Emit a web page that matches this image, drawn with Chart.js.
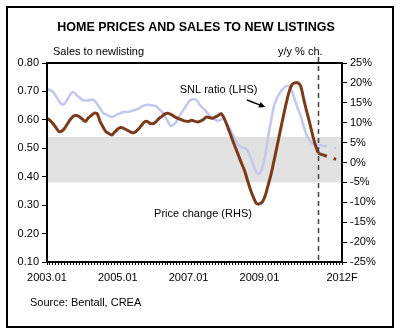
<!DOCTYPE html>
<html>
<head>
<meta charset="utf-8">
<script src="https://cdn.jsdelivr.net/npm/chart.js@4/dist/chart.umd.min.js"></script>
<style>
  html, body { margin: 0; padding: 0; background: #fff; }
  #wrap { width: 400px; height: 335px; position: relative; }
</style>
</head>
<body>
<div id="wrap"><canvas id="chart" width="400" height="335"></canvas></div>
<script>
// Monthly data 2003.01 - 2010.09, then a short forecast to 2012F
const firstYear = 2003;
const actualMonths = 93;
const forecastLabels = ['', '', '', '', '', '', '', '2012F'];
const shownLabels = ['2003.01', '2005.01', '2007.01', '2009.01', '2012F'];

// Sales to new listings ratio (LHS)
const snlRatio = [
  0.709, 0.705, 0.699, 0.684, 0.668, 0.654, 0.656, 0.673, 0.691, 0.698, 0.687, 0.679,
  0.670, 0.668, 0.668, 0.672, 0.668, 0.656, 0.640, 0.624, 0.619, 0.614, 0.610, 0.614,
  0.620, 0.624, 0.628, 0.628, 0.629, 0.632, 0.636, 0.639, 0.646, 0.651, 0.653, 0.652,
  0.650, 0.648, 0.638, 0.628, 0.612, 0.594, 0.578, 0.584, 0.596, 0.614, 0.631, 0.647,
  0.663, 0.671, 0.673, 0.666, 0.650, 0.640, 0.629, 0.617, 0.607, 0.601, 0.596, 0.601,
  0.603, 0.587, 0.568, 0.547, 0.527, 0.512, 0.503, 0.501, 0.492, 0.468, 0.439, 0.415,
  0.410, 0.434, 0.476, 0.543, 0.599, 0.652, 0.677, 0.696, 0.710, 0.719, 0.719, 0.702,
  0.670, 0.640, 0.614, 0.577, 0.547, 0.527, 0.516, 0.512, 0.512
];

// Price change y/y % (RHS)
const priceChange = [
  11.1, 10.6, 9.8, 8.8, 7.8, 7.9, 8.6, 9.8, 10.9, 11.7, 11.8, 11.5,
  10.9, 10.3, 11.2, 11.8, 12.4, 12.3, 10.3, 8.9, 7.7, 7.3, 6.9, 7.7,
  8.4, 8.8, 8.6, 8.2, 7.8, 7.5, 7.7, 8.4, 9.3, 10.2, 10.3, 9.8,
  9.8, 10.3, 11.1, 11.6, 12.2, 12.4, 12.1, 11.6, 11.2, 10.9, 10.6, 10.4,
  10.3, 10.6, 10.4, 10.2, 10.4, 10.8, 11.4, 11.3, 11.1, 11.4, 11.8, 12.3,
  11.2, 9.4, 7.4, 5.4, 3.5, 1.6, -0.3, -2.1, -4.6, -6.9, -8.8, -10.3,
  -10.4, -9.9, -8.3, -5.6, -2.8, 0.6, 4.1, 7.7, 11.2, 14.6, 17.6, 19.5,
  20.0, 20.0, 19.2, 16.0, 12.9, 10.1, 7.0, 4.3, 2.3
];

// Forecast segments, starting at the last actual month
const snlForecast = [0.512, null, null, null, null, null, 0.501];
const priceForecast = [2.3, null, null, null, null, null, 0.8];

const labels = [];
for (let i = 0; i < actualMonths; i++) {
  const y = firstYear + Math.floor(i / 12);
  const m = (i % 12) + 1;
  labels.push(y + '.' + (m < 10 ? '0' + m : m));
}
forecastLabels.forEach(l => labels.push(l));

function padForecast(arr) {
  const out = new Array(actualMonths - 1).fill(null);
  return out.concat(arr);
}

const FONT = '"Liberation Sans", Arial, sans-serif';
const brown = '#7a3b1c';
const lilac = '#c3c6ee';

const decorPlugin = {
  id: 'decor',
  beforeDatasetsDraw(chart) {
    const { ctx, chartArea, scales } = chart;
    // faint grey band across the plot
    const yTop = scales.y.getPixelForValue(0.54);
    const yBot = scales.y.getPixelForValue(0.38);
    ctx.save();
    ctx.fillStyle = '#e1e1e1';
    ctx.fillRect(chartArea.left, yTop, chartArea.right - chartArea.left, yBot - yTop);
    ctx.restore();
  },
  afterDatasetsDraw(chart) {
    const { ctx, chartArea, scales } = chart;
    const x = scales.x, y = scales.y, y1 = scales.y1;
    ctx.save();

    // plot frame
    ctx.strokeStyle = '#000';
    ctx.lineWidth = 2;
    ctx.strokeRect(chartArea.left, chartArea.top, chartArea.right - chartArea.left, chartArea.bottom - chartArea.top);

    // dashed line at the end of actual data
    const dx = Math.round(x.getPixelForValue(actualMonths - 1)) + 0.5;
    ctx.setLineDash([5, 4]);
    ctx.strokeStyle = '#444';
    ctx.lineWidth = 1.5;
    ctx.beginPath();
    ctx.moveTo(dx, 57);
    ctx.lineTo(dx, chartArea.bottom);
    ctx.stroke();
    ctx.setLineDash([]);

    // annotations
    ctx.fillStyle = '#000';
    ctx.font = '11px ' + FONT;
    ctx.textBaseline = 'middle';
    ctx.textAlign = 'left';
    ctx.fillText('SNL ratio (LHS)', x.getPixelForValue(45), y.getPixelForValue(0.705));
    ctx.fillText('Price change (RHS)', x.getPixelForValue(36.3), y1.getPixelForValue(-12.9));

    // arrow
    const ax1 = x.getPixelForValue(67.8), ay1 = y.getPixelForValue(0.670);
    const ax2 = x.getPixelForValue(74), ay2 = y.getPixelForValue(0.645);
    const ang = Math.atan2(ay2 - ay1, ax2 - ax1);
    ctx.strokeStyle = '#000';
    ctx.lineWidth = 1.5;
    ctx.beginPath();
    ctx.moveTo(ax1, ay1);
    ctx.lineTo(ax2 - 4 * Math.cos(ang), ay2 - 4 * Math.sin(ang));
    ctx.stroke();
    ctx.beginPath();
    ctx.moveTo(ax2, ay2);
    ctx.lineTo(ax2 - 7 * Math.cos(ang - 0.45), ay2 - 7 * Math.sin(ang - 0.45));
    ctx.lineTo(ax2 - 7 * Math.cos(ang + 0.45), ay2 - 7 * Math.sin(ang + 0.45));
    ctx.closePath();
    ctx.fill();
    ctx.restore();
  },
  afterDraw(chart) {
    const { ctx } = chart;
    ctx.save();
    // outer frame
    ctx.strokeStyle = '#000';
    ctx.lineWidth = 2;
    ctx.strokeRect(7, 7, 386, 320);

    ctx.fillStyle = '#000';
    ctx.textBaseline = 'middle';
    ctx.textAlign = 'center';
    ctx.font = 'bold 12.5px ' + FONT;
    ctx.fillText('HOME PRICES AND SALES TO NEW LISTINGS', 196, 28);

    ctx.font = '11px ' + FONT;
    ctx.textAlign = 'left';
    ctx.fillText('Sales to newlisting', 53, 52);
    ctx.fillText('y/y % ch.', 278, 52);
    ctx.fillText('Source: Bentall, CREA', 30, 303);
    ctx.restore();
  }
};

const ctx = document.getElementById('chart').getContext('2d');
new Chart(ctx, {
  type: 'line',
  data: {
    labels: labels,
    datasets: [
      {
        label: 'SNL ratio (LHS)',
        data: snlRatio,
        yAxisID: 'y',
        borderColor: lilac,
        borderWidth: 2.5,
        pointRadius: 0,
        tension: 0.2,
        order: 2
      },
      {
        label: 'SNL forecast',
        data: padForecast(snlForecast),
        yAxisID: 'y',
        borderColor: lilac,
        borderWidth: 2.5,
        borderDash: [9, 7],
        pointRadius: 0,
        spanGaps: true,
        order: 2
      },
      {
        label: 'Price change (RHS)',
        data: priceChange,
        yAxisID: 'y1',
        borderColor: brown,
        borderWidth: 3,
        pointRadius: 0,
        tension: 0.2,
        order: 1
      },
      {
        label: 'Price forecast',
        data: padForecast(priceForecast),
        yAxisID: 'y1',
        borderColor: brown,
        borderWidth: 3,
        borderDash: [9, 7],
        pointRadius: 0,
        spanGaps: true,
        order: 1
      }
    ]
  },
  options: {
    responsive: false,
    animation: false,
    layout: { padding: { top: 63, bottom: 43, left: 0, right: 0 } },
    plugins: {
      legend: { display: false },
      title: { display: false },
      tooltip: { enabled: false }
    },
    scales: {
      x: {
        type: 'category',
        offset: false,
        afterFit: s => { s.height = 30; },
        border: { color: '#000', width: 2 },
        grid: { drawOnChartArea: false, color: '#000', tickLength: 3, lineWidth: 1 },
        ticks: {
          autoSkip: false,
          maxRotation: 0,
          padding: 6,
          color: '#000',
          font: { family: FONT, size: 11 },
          callback: function(val) {
            const l = this.getLabelForValue(val);
            return shownLabels.includes(l) ? l : '';
          }
        }
      },
      y: {
        position: 'left',
        min: 0.1,
        max: 0.8,
        afterFit: s => { s.width = 47; },
        border: { color: '#000', width: 2 },
        grid: { drawOnChartArea: false, color: '#000', tickLength: 5 },
        ticks: {
          stepSize: 0.1,
          padding: 3,
          color: '#000',
          font: { family: FONT, size: 11 },
          callback: v => v.toFixed(2)
        }
      },
      y1: {
        position: 'right',
        min: -25,
        max: 25,
        afterFit: s => { s.width = 58; },
        border: { color: '#000', width: 2 },
        grid: { drawOnChartArea: false, color: '#000', tickLength: 5 },
        ticks: {
          stepSize: 5,
          padding: 3,
          color: '#000',
          font: { family: FONT, size: 11 },
          callback: v => v + '%'
        }
      }
    }
  },
  plugins: [decorPlugin]
});
</script>
</body>
</html>
